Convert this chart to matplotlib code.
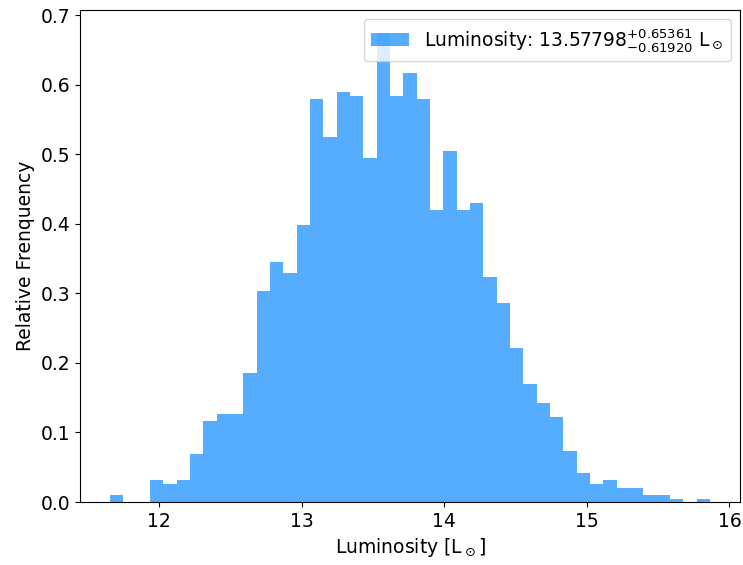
import numpy as np
import matplotlib.pyplot as plt

plt.rcParams['font.size'] = 13.5

# histogram: 45 bins, first edge / width in L_sun
lum_lo = 11.654
lum_hi = 15.864
nbins = 45
rel_freq = [0.0097, 0.0, 0.0, 0.0312, 0.0255, 0.0312, 0.0687, 0.1166, 0.1271, 0.1271,
            0.1862, 0.3028, 0.3451, 0.3287, 0.3978, 0.5792, 0.5255, 0.5898, 0.5841, 0.4942,
            0.674, 0.5841, 0.6166, 0.5792, 0.4204, 0.5043, 0.4204, 0.4305, 0.3239, 0.2861,
            0.2221, 0.1695, 0.1425, 0.1219, 0.0734, 0.0417, 0.0255, 0.0312, 0.0206, 0.0206,
            0.0097, 0.0097, 0.0048, 0.0, 0.0048]
lum_med = 13.57798
err_up = 0.65361
err_lo = 0.61920

edges = np.linspace(lum_lo, lum_hi, nbins + 1)
centers = 0.5 * (edges[:-1] + edges[1:])

fig = plt.figure(figsize=(7.43, 5.65), dpi=100)
ax = fig.add_axes([0.1077, 0.1115, 0.8883, 0.8708])

lab = r'Luminosity: $%.5f^{+%.5f}_{-%.5f}$ L$_\odot$' % (lum_med, err_up, err_lo)
ax.hist(centers, bins=edges, weights=rel_freq, color='dodgerblue', alpha=0.75, label=lab)

ax.set_xlabel(r'Luminosity [L$_\odot$]')
ax.set_ylabel('Relative Frenquency')
ax.legend(loc='upper right')

plt.savefig('out.png', dpi=100)
